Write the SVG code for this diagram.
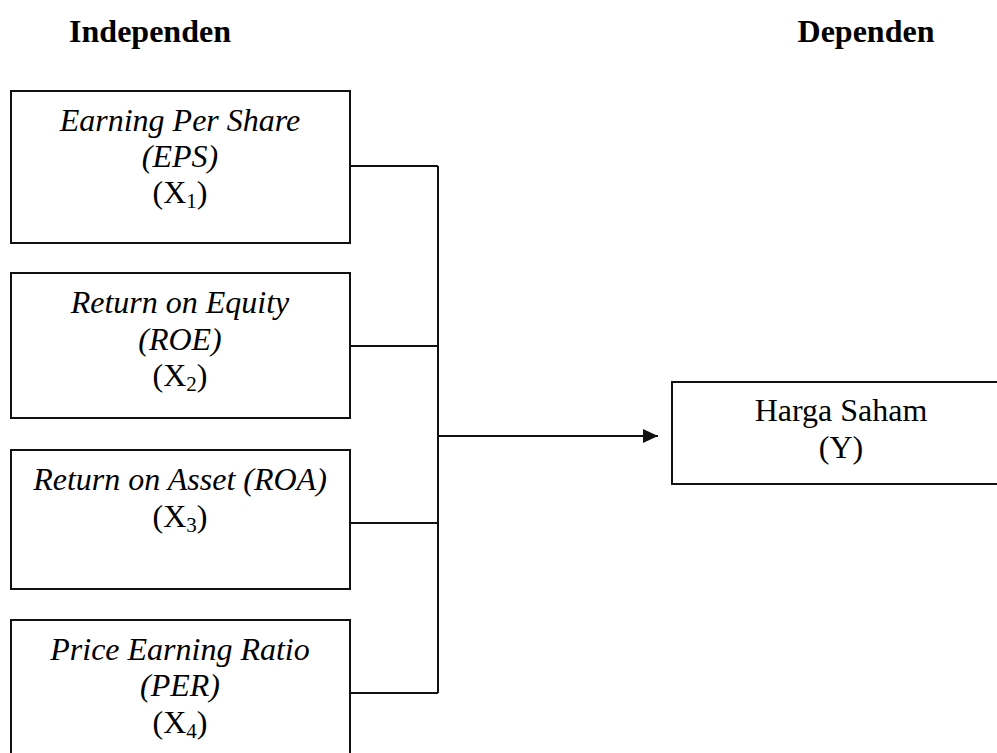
<svg xmlns="http://www.w3.org/2000/svg" width="997" height="753" viewBox="0 0 997 753">
<style>
text{font-family:"Liberation Serif","Times New Roman",serif;font-size:32px;fill:#000;text-anchor:middle}
.h{font-weight:bold}
.i{font-style:italic}
.sub{font-size:21px}
.box{fill:#fff;stroke:#111;stroke-width:2}
.ln{fill:none;stroke:#111;stroke-width:2}
</style>
<defs>
<marker id="arr" viewBox="0 0 10 10" refX="10" refY="5" markerWidth="10" markerHeight="10" markerUnits="userSpaceOnUse" orient="auto">
<path d="M0,0 L10,5 L0,10 z" fill="#111"/>
</marker>
<marker id="arr2" viewBox="0 0 15 14" refX="15" refY="7" markerWidth="15" markerHeight="14" markerUnits="userSpaceOnUse" orient="auto">
<path d="M0,0 L15,7 L0,14 z" fill="#111"/>
</marker>
</defs>
<g id="headings">
<text class="h" x="150" y="42">Independen</text>
<text class="h" x="866" y="42">Dependen</text>
</g>
<g id="connectors">
<path class="ln" d="M350,166 H438 M350,346 H438 M350,523 H438 M350,693 H438 M438,166 V693"/>
<path class="ln" d="M438,436 H658" marker-end="url(#arr2)"/>
</g>
<g id="x1">
<rect class="box" x="11" y="91" width="339" height="152"/>
<text class="i" x="180" y="131">Earning Per Share</text>
<text class="i" x="180" y="167">(EPS)</text>
<text x="180" y="203">(X<tspan class="sub" dy="5">1</tspan><tspan dy="-5">)</tspan></text>
</g>
<g id="x2">
<rect class="box" x="11" y="273" width="339" height="145"/>
<text class="i" x="180" y="313">Return on Equity</text>
<text class="i" x="180" y="350">(ROE)</text>
<text x="180" y="386">(X<tspan class="sub" dy="5">2</tspan><tspan dy="-5">)</tspan></text>
</g>
<g id="x3">
<rect class="box" x="11" y="450" width="339" height="139"/>
<text class="i" x="180" y="490">Return on Asset (ROA)</text>
<text x="180" y="527">(X<tspan class="sub" dy="5">3</tspan><tspan dy="-5">)</tspan></text>
</g>
<g id="x4">
<rect class="box" x="11" y="620" width="339" height="150"/>
<text class="i" x="180" y="660">Price Earning Ratio</text>
<text class="i" x="180" y="696">(PER)</text>
<text x="180" y="733">(X<tspan class="sub" dy="5">4</tspan><tspan dy="-5">)</tspan></text>
</g>
<g id="y">
<rect class="box" x="672" y="382" width="340" height="102"/>
<text x="841" y="421">Harga Saham</text>
<text x="841" y="458">(Y)</text>
</g>
</svg>
